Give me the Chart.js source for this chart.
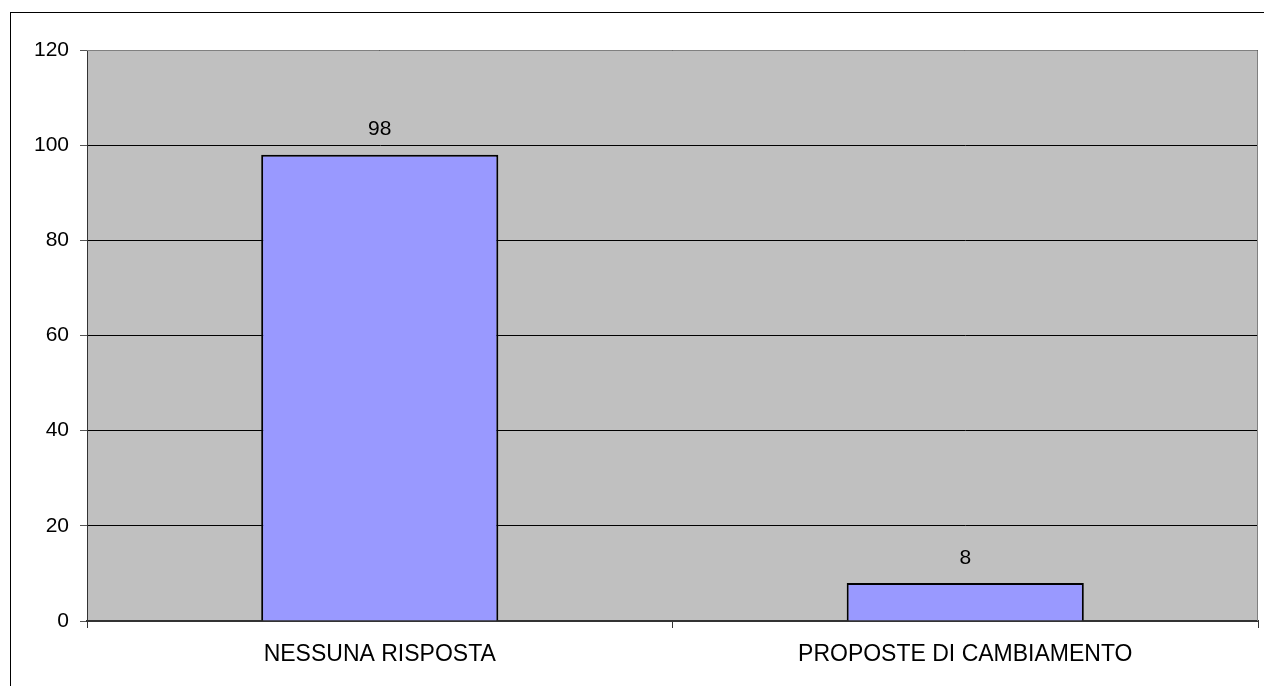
<!DOCTYPE html>
<html><head><meta charset="utf-8">
<script src="https://cdn.jsdelivr.net/npm/chart.js@4/dist/chart.umd.min.js"></script>
<style>html,body{margin:0;padding:0;background:#fff;}#wrap{width:1264px;height:686px;}</style>
</head><body><div id="wrap"><canvas id="c" width="1264" height="686"></canvas></div>
<script>
const categories = ["NESSUNA RISPOSTA", "PROPOSTE DI CAMBIAMENTO"];
const values = [98, 8];
const yTicks = [0, 20, 40, 60, 80, 100, 120];

const FONT = '"Liberation Sans", Arial, sans-serif';

const bgPlugin = {
  id: 'bg',
  beforeDraw(chart) {
    const ctx = chart.ctx, a = chart.chartArea;
    ctx.save();
    ctx.fillStyle = '#fff';
    ctx.fillRect(0, 0, chart.width, chart.height);
    ctx.strokeStyle = '#000';
    ctx.lineWidth = 1;
    ctx.strokeRect(10.5, 12.5, 1300, 700);
    ctx.fillStyle = '#C0C0C0';
    ctx.fillRect(a.left, a.top, a.right - a.left, a.bottom - a.top);
    ctx.restore();
  },
  afterDatasetsDraw(chart) {
    const ctx = chart.ctx, a = chart.chartArea;
    ctx.save();
    ctx.strokeStyle = '#808080';
    ctx.lineWidth = 1;
    ctx.beginPath();
    ctx.moveTo(a.left, a.top + 0.5); ctx.lineTo(a.right - 0.5, a.top + 0.5); ctx.lineTo(a.right - 0.5, a.bottom);
    ctx.stroke();
    ctx.fillStyle = '#000';
    ctx.font = '21px ' + FONT;
    ctx.textAlign = 'center';
    ctx.textBaseline = 'middle';
    const meta = chart.getDatasetMeta(0);
    meta.data.forEach((bar, i) => {
      ctx.fillText(String(values[i]), bar.x, bar.y - 25);
    });
    ctx.restore();
  }
};

new Chart(document.getElementById('c'), {
  type: 'bar',
  data: {
    labels: categories,
    datasets: [{
      data: values,
      backgroundColor: '#9999FF',
      borderColor: '#000',
      borderWidth: 2,
      categoryPercentage: 0.81,
      barPercentage: 0.5
    }]
  },
  options: {
    responsive: false,
    animation: false,
    devicePixelRatio: 1,
    layout: { padding: { top: 50, right: 6, left: 0, bottom: 0 } },
    plugins: { legend: { display: false }, tooltip: { enabled: false } },
    scales: {
      y: {
        min: 0, max: 120,
        afterFit(s) { s.width = 87; },
        afterBuildTicks(s) { s.ticks = yTicks.map(v => ({ value: v })); },
        ticks: { color: '#000', font: { size: 21, family: FONT }, padding: 11 },
        grid: { color: '#000', lineWidth: 1, tickLength: 7, tickColor: '#555' },
        border: { color: '#333', width: 1 }
      },
      x: {
        afterFit(s) { s.height = 65; },
        offset: true,
        ticks: { color: '#000', font: { size: 23, family: FONT }, padding: 13 },
        grid: { offset: true, drawOnChartArea: false, tickLength: 7, tickColor: '#333' },
        border: { color: '#333', width: 2 }
      }
    }
  },
  plugins: [bgPlugin]
});
</script>
</body></html>
